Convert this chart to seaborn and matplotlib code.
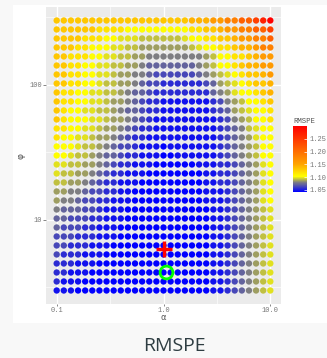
import numpy as np
import pandas as pd
import matplotlib
matplotlib.use("Agg")
import matplotlib.pyplot as plt
import seaborn as sns
from matplotlib.colors import LinearSegmentedColormap, Normalize
from matplotlib.patches import Rectangle
from matplotlib.cm import ScalarMappable

# ---------------- data ----------------
alpha_values = [0.1, 0.1166, 0.1359, 0.1585, 0.1848, 0.2154, 0.2512, 0.2929,
                0.3415, 0.3981, 0.4642, 0.5412, 0.631, 0.7356, 0.8577, 1.0,
                1.166, 1.359, 1.585, 1.848, 2.154, 2.512, 2.929, 3.415,
                3.981, 4.642, 5.412, 6.31, 7.356, 8.577, 10.0]
# rows from top (phi = 300) to bottom (phi = 3)
phi_values = [300.0, 257.3, 220.7, 189.3, 162.4, 139.2, 119.4, 102.4, 87.86,
              75.36, 64.63, 55.44, 47.55, 40.78, 34.98, 30.0, 25.73, 22.07,
              18.93, 16.24, 13.92, 11.94, 10.24, 8.786, 7.536, 6.463, 5.544,
              4.755, 4.078, 3.498, 3.0]
# RMSPE level of every grid point (one character per point, columns = alpha)
rmspe_rows = [
    "bbbbbbbbbbbbbbbbbbbcccddeeffghi",
    "bbbbbbaaaa999999999aabbcddeeffg",
    "bbbbaaa99888777777899aabbcddeef",
    "bbbaa999887766666667899aabccdee",
    "bbaaa99887766555555556799aabcdd",
    "bbaa998877665444444456799abccdd",
    "bbaa9988766554333333456789abbcd",
    "bbaa99877665433222222346789abbc",
    "baa9988776544322222222456899abc",
    "baa99887665432211111112356799ab",
    "ba9988776544322111111123467899a",
    "ba9998876654321111111112356799a",
    "aa99887665432211111111123457899",
    "a998876654322111111111123456899",
    "9998776543321110111111123456799",
    "9987765443221110011111123456799",
    "8877665432211100000011122345689",
    "8776654322111000000001122345689",
    "7766543221110000000001122345689",
    "6655433221100000000001112345689",
    "6554332211100000000001112345689",
    "5444332111000000000000112345678",
    "4433322111000000000000112345678",
    "4333221110000000000000112345678",
    "3332221110000000000000112345678",
    "3322211100000000000000112345678",
    "3222111000000000000000112345678",
    "2221110000000000000000112345678",
    "2211100000000000000000112345678",
    "2111000000000000000000112345678",
    "1110000000000000000000112345678",
]
level_values = {
    "0": 1.042, "1": 1.048, "2": 1.056, "3": 1.064, "4": 1.072,
    "5": 1.080, "6": 1.086, "7": 1.092, "8": 1.098, "9": 1.104,
    "a": 1.118, "b": 1.132, "c": 1.143, "d": 1.160, "e": 1.184,
    "f": 1.213, "g": 1.242, "h": 1.271, "i": 1.300,
}
true_alpha, true_phi = [1.0], [6.1]
best_alpha, best_phi = [1.05], [4.1]

x_ticks = [0.1, 1.0, 10.0]
x_tick_labels = ["0.1", "1.0", "10.0"]
y_ticks = [10, 100]
y_tick_labels = ["10", "100"]
legend_ticks = [1.05, 1.10, 1.15, 1.20, 1.25]
legend_tick_labels = ["1.05", "1.10", "1.15", "1.20", "1.25"]

# ---------------- build table ----------------
recs = []
for i, row in enumerate(rmspe_rows):
    assert len(row) == len(alpha_values)
    for j, ch in enumerate(row):
        recs.append((alpha_values[j], phi_values[i], level_values[ch]))
df = pd.DataFrame(recs, columns=["alpha", "phi", "RMSPE"])

vmin, vmax = df["RMSPE"].min(), df["RMSPE"].max()
anchors = [(1.042, "#0000ff"), (1.080, "#808080"), (1.103, "#ffff00"),
           (1.150, "#ffa500"), (1.300, "#ff0000")]
cmap = LinearSegmentedColormap.from_list(
    "rmspe", [((v - vmin) / (vmax - vmin), c) for v, c in anchors])
norm = Normalize(vmin=vmin, vmax=vmax)

# ---------------- figure ----------------
W, H = 327, 358
fig = plt.figure(figsize=(W / 100, H / 100), dpi=100)
fig.patch.set_facecolor("#f8f8f8")
fig.patches.append(Rectangle((13 / W, 1 - 323 / H), (W - 13) / W, (323 - 5) / H,
                             transform=fig.transFigure, facecolor="white",
                             edgecolor="none", zorder=-10))

ax = fig.add_axes([46 / W, 1 - 304 / H, 235 / W, 297 / H])
ax.set_zorder(2)
ax.set_facecolor("#ebebeb")
ax.set_xscale("log")
ax.set_yscale("log")

sns.scatterplot(data=df, x="alpha", y="phi", hue="RMSPE", palette=cmap,
                hue_norm=norm, s=21, linewidth=0, legend=False, ax=ax, zorder=3)

ax.plot(true_alpha, true_phi, marker="+", ms=11, mew=2.4, color="#ff0000",
        linestyle="none", zorder=5)
ax.plot(best_alpha, best_phi, marker="o", ms=9.2, mew=2.0, mfc="none",
        mec="#00ff00", linestyle="none", zorder=5)

ax.set_xlim(10 ** -1.1, 10 ** 1.1)
ax.set_ylim(10 ** 0.377, 10 ** 2.577)

ax.set_xticks(x_ticks)
ax.set_xticklabels(x_tick_labels)
ax.set_yticks(y_ticks)
ax.set_yticklabels(y_tick_labels)
ax.set_xticks([10 ** -0.5, 10 ** 0.5], minor=True)
ax.set_yticks([10 ** 0.5, 10 ** 1.5, 10 ** 2.5], minor=True)
ax.set_xticklabels([], minor=True)
ax.set_yticklabels([], minor=True)
ax.grid(which="major", color="white", linewidth=0.95, zorder=0)
ax.grid(which="minor", color="white", linewidth=0.45, zorder=0)
ax.set_axisbelow(True)
for s in ax.spines.values():
    s.set_visible(False)
ax.tick_params(which="major", length=1.4, width=0.5, color="#555555", pad=0.6,
               labelsize=5, labelcolor="#777777")
ax.tick_params(axis="y", which="major", length=2.0, pad=1.0)
ax.tick_params(which="minor", length=0)
for lab in ax.get_xticklabels() + ax.get_yticklabels():
    lab.set_family("Liberation Mono")
ax.set_xlabel("")
ax.set_ylabel("")

fig.text(163.5 / W, 1 - 320.5 / H, "α", ha="center", va="baseline",
         fontsize=6, color="#555555")
fig.text(21 / W, 1 - 155.5 / H, "φ", ha="center", va="center", rotation=90,
         fontsize=6.5, color="#555555")

# colour legend
cax = fig.add_axes([293 / W, 1 - 192 / H, 13.5 / W, 66 / H])
cax.set_zorder(2)
cb = fig.colorbar(ScalarMappable(norm=norm, cmap=cmap), cax=cax)
cb.outline.set_visible(False)
cb.set_ticks(legend_ticks)
cb.set_ticklabels(legend_tick_labels)
cax.tick_params(direction="in", color="white", length=2.5, width=0.5, pad=2.2,
                labelsize=5, labelcolor="#777777")
for lab in cax.get_yticklabels():
    lab.set_family("Liberation Mono")
fig.text(293 / W, 1 - 123.5 / H, "RMSPE", ha="left", va="baseline",
         fontsize=5.2, color="#555555", family="Liberation Mono")

fig.text(174 / W, 1 - 351 / H, "RMSPE", ha="center", va="baseline",
         fontsize=14, color="#2e3d42", family="Open Sans")

fig.savefig("out.png", dpi=100, facecolor=fig.get_facecolor())
